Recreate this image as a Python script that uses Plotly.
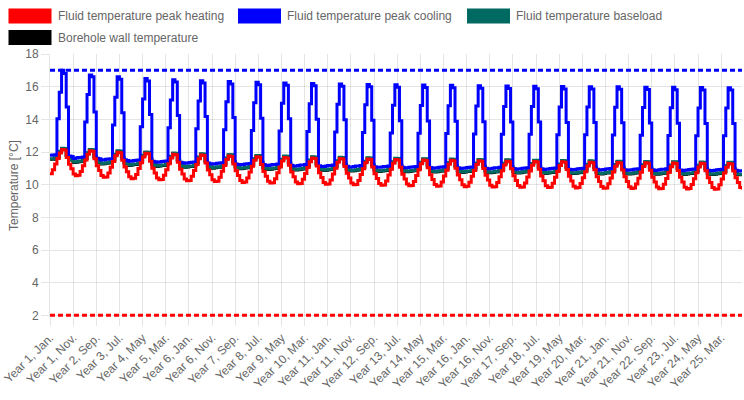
import plotly.graph_objects as go

month_names = ["Jan.", "Feb.", "Mar.", "Apr.", "May", "Jun.",
               "Jul.", "Aug.", "Sep.", "Oct.", "Nov.", "Dec."]
n_years = 25
month_labels = [f"Year {y}, {m}" for y in range(1, n_years + 1) for m in month_names]

series_names = ["Fluid temperature peak heating", "Fluid temperature peak cooling",
                "Fluid temperature baseload", "Borehole wall temperature"]

# one line per year, Jan. .. Dec.
peak_heating = [
    10.67, 10.92, 11.26, 11.6, 11.94, 12.15, 12.12, 11.67, 11.25, 10.97, 10.66, 10.55,
    10.57, 10.81, 11.16, 11.51, 11.86, 12.07, 12.04, 11.58, 11.16, 10.87, 10.56, 10.45,
    10.47, 10.71, 11.07, 11.42, 11.77, 11.99, 11.96, 11.5, 11.08, 10.79, 10.48, 10.37,
    10.39, 10.63, 10.99, 11.35, 11.7, 11.92, 11.89, 11.43, 11.01, 10.72, 10.41, 10.3,
    10.32, 10.57, 10.92, 11.28, 11.64, 11.86, 11.83, 11.37, 10.95, 10.66, 10.35, 10.24,
    10.26, 10.51, 10.87, 11.23, 11.59, 11.81, 11.78, 11.32, 10.9, 10.61, 10.3, 10.19,
    10.21, 10.46, 10.82, 11.18, 11.54, 11.76, 11.73, 11.27, 10.85, 10.56, 10.25, 10.14,
    10.16, 10.41, 10.77, 11.13, 11.49, 11.71, 11.68, 11.23, 10.81, 10.52, 10.21, 10.1,
    10.12, 10.37, 10.73, 11.09, 11.45, 11.67, 11.64, 11.19, 10.77, 10.48, 10.17, 10.06,
    10.08, 10.33, 10.69, 11.05, 11.41, 11.63, 11.6, 11.15, 10.73, 10.44, 10.13, 10.02,
    10.04, 10.29, 10.65, 11.01, 11.37, 11.6, 11.57, 11.12, 10.7, 10.41, 10.1, 9.99,
    10.01, 10.26, 10.62, 10.98, 11.34, 11.57, 11.54, 11.09, 10.67, 10.38, 10.07, 9.96,
    9.98, 10.23, 10.59, 10.95, 11.31, 11.54, 11.51, 11.06, 10.64, 10.35, 10.04, 9.93,
    9.95, 10.2, 10.56, 10.92, 11.28, 11.51, 11.48, 11.03, 10.61, 10.32, 10.01, 9.9,
    9.92, 10.17, 10.53, 10.89, 11.25, 11.49, 11.46, 11.01, 10.59, 10.3, 9.99, 9.88,
    9.9, 10.15, 10.51, 10.87, 11.23, 11.46, 11.43, 10.99, 10.57, 10.28, 9.97, 9.86,
    9.88, 10.13, 10.49, 10.85, 11.21, 11.44, 11.41, 10.97, 10.55, 10.26, 9.95, 9.84,
    9.86, 10.11, 10.47, 10.83, 11.19, 11.42, 11.39, 10.95, 10.53, 10.24, 9.93, 9.82,
    9.84, 10.09, 10.45, 10.81, 11.17, 11.4, 11.37, 10.93, 10.51, 10.22, 9.91, 9.8,
    9.82, 10.07, 10.43, 10.79, 11.15, 11.38, 11.35, 10.91, 10.49, 10.2, 9.89, 9.78,
    9.8, 10.05, 10.41, 10.77, 11.13, 11.36, 11.33, 10.9, 10.48, 10.19, 9.88, 9.77,
    9.79, 10.04, 10.4, 10.76, 11.12, 11.34, 11.31, 10.88, 10.46, 10.17, 9.86, 9.75,
    9.77, 10.02, 10.38, 10.74, 11.1, 11.33, 11.3, 10.87, 10.45, 10.16, 9.85, 9.74,
    9.76, 10.01, 10.37, 10.73, 11.09, 11.31, 11.28, 10.85, 10.43, 10.14, 9.83, 9.72,
    9.74, 9.99, 10.35, 10.71, 11.07, 11.3, 11.27, 10.84, 10.42, 10.13, 9.82, 9.71,
]

peak_cooling = [
    11.8, 11.81, 11.83, 14.04, 15.66, 17.0, 16.8, 14.75, 11.76, 11.72, 11.61, 11.63,
    11.66, 11.67, 11.69, 13.83, 15.52, 16.72, 16.6, 14.45, 11.62, 11.58, 11.51, 11.53,
    11.56, 11.57, 11.59, 13.65, 15.35, 16.6, 16.45, 14.4, 11.52, 11.48, 11.43, 11.45,
    11.48, 11.49, 11.51, 13.55, 15.25, 16.5, 16.35, 14.3, 11.44, 11.4, 11.37, 11.39,
    11.42, 11.43, 11.45, 13.48, 15.18, 16.43, 16.28, 14.23, 11.38, 11.34, 11.31, 11.33,
    11.36, 11.37, 11.39, 13.42, 15.12, 16.37, 16.22, 14.17, 11.32, 11.28, 11.26, 11.28,
    11.31, 11.32, 11.34, 13.37, 15.07, 16.32, 16.17, 14.12, 11.27, 11.23, 11.22, 11.24,
    11.27, 11.28, 11.3, 13.32, 15.02, 16.27, 16.12, 14.07, 11.23, 11.19, 11.18, 11.2,
    11.23, 11.24, 11.26, 13.28, 14.98, 16.23, 16.08, 14.03, 11.19, 11.15, 11.15, 11.17,
    11.2, 11.21, 11.23, 13.25, 14.95, 16.2, 16.05, 14.0, 11.16, 11.12, 11.12, 11.14,
    11.17, 11.18, 11.2, 13.22, 14.92, 16.17, 16.02, 13.97, 11.13, 11.09, 11.09, 11.11,
    11.14, 11.15, 11.17, 13.19, 14.89, 16.14, 15.99, 13.94, 11.1, 11.06, 11.06, 11.08,
    11.11, 11.12, 11.14, 13.17, 14.87, 16.12, 15.97, 13.92, 11.07, 11.03, 11.04, 11.06,
    11.09, 11.1, 11.12, 13.15, 14.85, 16.1, 15.95, 13.9, 11.05, 11.01, 11.02, 11.04,
    11.07, 11.08, 11.1, 13.13, 14.83, 16.08, 15.93, 13.88, 11.03, 10.99, 11.0, 11.02,
    11.05, 11.06, 11.08, 13.11, 14.81, 16.06, 15.91, 13.86, 11.01, 10.97, 10.98, 11.0,
    11.03, 11.04, 11.06, 13.09, 14.79, 16.04, 15.89, 13.84, 10.99, 10.95, 10.96, 10.98,
    11.01, 11.02, 11.04, 13.08, 14.78, 16.03, 15.88, 13.83, 10.97, 10.93, 10.94, 10.96,
    10.99, 11.0, 11.02, 13.06, 14.76, 16.01, 15.86, 13.81, 10.95, 10.91, 10.93, 10.95,
    10.98, 10.99, 11.01, 13.05, 14.75, 16.0, 15.85, 13.8, 10.94, 10.9, 10.91, 10.93,
    10.96, 10.97, 10.99, 13.04, 14.74, 15.99, 15.84, 13.79, 10.92, 10.88, 10.9, 10.92,
    10.95, 10.96, 10.98, 13.02, 14.72, 15.97, 15.82, 13.77, 10.91, 10.87, 10.89, 10.91,
    10.94, 10.95, 10.97, 13.01, 14.71, 15.96, 15.81, 13.76, 10.9, 10.86, 10.88, 10.9,
    10.93, 10.94, 10.96, 13.0, 14.7, 15.95, 15.8, 13.75, 10.89, 10.85, 10.87, 10.89,
    10.92, 10.93, 10.95, 12.99, 14.69, 15.94, 15.79, 13.74, 10.88, 10.84, 10.86, 10.88,
]

baseload = [
    11.58, 11.59, 11.65, 11.72, 12.04, 12.23, 12.22, 11.82, 11.6, 11.54, 11.39, 11.41,
    11.44, 11.45, 11.51, 11.63, 11.96, 12.15, 12.14, 11.73, 11.46, 11.4, 11.29, 11.31,
    11.34, 11.35, 11.41, 11.54, 11.87, 12.07, 12.06, 11.65, 11.36, 11.3, 11.21, 11.23,
    11.26, 11.27, 11.33, 11.47, 11.8, 12.0, 11.99, 11.58, 11.28, 11.22, 11.15, 11.17,
    11.2, 11.21, 11.27, 11.4, 11.74, 11.94, 11.93, 11.52, 11.22, 11.16, 11.09, 11.11,
    11.14, 11.15, 11.21, 11.35, 11.69, 11.89, 11.88, 11.47, 11.16, 11.1, 11.04, 11.06,
    11.09, 11.1, 11.16, 11.3, 11.64, 11.84, 11.83, 11.42, 11.11, 11.05, 11.0, 11.02,
    11.05, 11.06, 11.12, 11.25, 11.59, 11.79, 11.78, 11.38, 11.07, 11.01, 10.96, 10.98,
    11.01, 11.02, 11.08, 11.21, 11.55, 11.75, 11.74, 11.34, 11.03, 10.97, 10.93, 10.95,
    10.98, 10.99, 11.05, 11.17, 11.51, 11.71, 11.7, 11.3, 11.0, 10.94, 10.9, 10.92,
    10.95, 10.96, 11.02, 11.13, 11.47, 11.68, 11.67, 11.27, 10.97, 10.91, 10.87, 10.89,
    10.92, 10.93, 10.99, 11.1, 11.44, 11.65, 11.64, 11.24, 10.94, 10.88, 10.84, 10.86,
    10.89, 10.9, 10.96, 11.07, 11.41, 11.62, 11.61, 11.21, 10.91, 10.85, 10.82, 10.84,
    10.87, 10.88, 10.94, 11.04, 11.38, 11.59, 11.58, 11.18, 10.89, 10.83, 10.8, 10.82,
    10.85, 10.86, 10.92, 11.01, 11.35, 11.57, 11.56, 11.16, 10.87, 10.81, 10.78, 10.8,
    10.83, 10.84, 10.9, 10.99, 11.33, 11.54, 11.53, 11.14, 10.85, 10.79, 10.76, 10.78,
    10.81, 10.82, 10.88, 10.97, 11.31, 11.52, 11.51, 11.12, 10.83, 10.77, 10.74, 10.76,
    10.79, 10.8, 10.86, 10.95, 11.29, 11.5, 11.49, 11.1, 10.81, 10.75, 10.72, 10.74,
    10.77, 10.78, 10.84, 10.93, 11.27, 11.48, 11.47, 11.08, 10.79, 10.73, 10.71, 10.73,
    10.76, 10.77, 10.83, 10.91, 11.25, 11.46, 11.45, 11.06, 10.78, 10.72, 10.69, 10.71,
    10.74, 10.75, 10.81, 10.89, 11.23, 11.44, 11.43, 11.05, 10.76, 10.7, 10.68, 10.7,
    10.73, 10.74, 10.8, 10.88, 11.22, 11.42, 11.41, 11.03, 10.75, 10.69, 10.67, 10.69,
    10.72, 10.73, 10.79, 10.86, 11.2, 11.41, 11.4, 11.02, 10.74, 10.68, 10.66, 10.68,
    10.71, 10.72, 10.78, 10.85, 11.19, 11.39, 11.38, 11.0, 10.73, 10.67, 10.65, 10.67,
    10.7, 10.71, 10.77, 10.83, 11.17, 11.38, 11.37, 10.99, 10.72, 10.66, 10.64, 10.66,
]

wall_temp = [
    11.55, 11.56, 11.62, 11.69, 12.01, 12.2, 12.19, 11.79, 11.57, 11.51, 11.36, 11.38,
    11.41, 11.42, 11.48, 11.6, 11.93, 12.12, 12.11, 11.7, 11.43, 11.37, 11.26, 11.28,
    11.31, 11.32, 11.38, 11.51, 11.84, 12.04, 12.03, 11.62, 11.33, 11.27, 11.18, 11.2,
    11.23, 11.24, 11.3, 11.44, 11.77, 11.97, 11.96, 11.55, 11.25, 11.19, 11.12, 11.14,
    11.17, 11.18, 11.24, 11.37, 11.71, 11.91, 11.9, 11.49, 11.19, 11.13, 11.06, 11.08,
    11.11, 11.12, 11.18, 11.32, 11.66, 11.86, 11.85, 11.44, 11.13, 11.07, 11.01, 11.03,
    11.06, 11.07, 11.13, 11.27, 11.61, 11.81, 11.8, 11.39, 11.08, 11.02, 10.97, 10.99,
    11.02, 11.03, 11.09, 11.22, 11.56, 11.76, 11.75, 11.35, 11.04, 10.98, 10.93, 10.95,
    10.98, 10.99, 11.05, 11.18, 11.52, 11.72, 11.71, 11.31, 11.0, 10.94, 10.9, 10.92,
    10.95, 10.96, 11.02, 11.14, 11.48, 11.68, 11.67, 11.27, 10.97, 10.91, 10.87, 10.89,
    10.92, 10.93, 10.99, 11.1, 11.44, 11.65, 11.64, 11.24, 10.94, 10.88, 10.84, 10.86,
    10.89, 10.9, 10.96, 11.07, 11.41, 11.62, 11.61, 11.21, 10.91, 10.85, 10.81, 10.83,
    10.86, 10.87, 10.93, 11.04, 11.38, 11.59, 11.58, 11.18, 10.88, 10.82, 10.79, 10.81,
    10.84, 10.85, 10.91, 11.01, 11.35, 11.56, 11.55, 11.15, 10.86, 10.8, 10.77, 10.79,
    10.82, 10.83, 10.89, 10.98, 11.32, 11.54, 11.53, 11.13, 10.84, 10.78, 10.75, 10.77,
    10.8, 10.81, 10.87, 10.96, 11.3, 11.51, 11.5, 11.11, 10.82, 10.76, 10.73, 10.75,
    10.78, 10.79, 10.85, 10.94, 11.28, 11.49, 11.48, 11.09, 10.8, 10.74, 10.71, 10.73,
    10.76, 10.77, 10.83, 10.92, 11.26, 11.47, 11.46, 11.07, 10.78, 10.72, 10.69, 10.71,
    10.74, 10.75, 10.81, 10.9, 11.24, 11.45, 11.44, 11.05, 10.76, 10.7, 10.68, 10.7,
    10.73, 10.74, 10.8, 10.88, 11.22, 11.43, 11.42, 11.03, 10.75, 10.69, 10.66, 10.68,
    10.71, 10.72, 10.78, 10.86, 11.2, 11.41, 11.4, 11.02, 10.73, 10.67, 10.65, 10.67,
    10.7, 10.71, 10.77, 10.85, 11.19, 11.39, 11.38, 11.0, 10.72, 10.66, 10.64, 10.66,
    10.69, 10.7, 10.76, 10.83, 11.17, 11.38, 11.37, 10.99, 10.71, 10.65, 10.63, 10.65,
    10.68, 10.69, 10.75, 10.82, 11.16, 11.36, 11.35, 10.97, 10.7, 10.64, 10.62, 10.64,
    10.67, 10.68, 10.74, 10.8, 11.14, 11.35, 11.34, 10.96, 10.69, 10.63, 10.61, 10.63,
]

max_fluid_temp = 17
min_fluid_temp = 2

colors = ["rgb(255,0,0)", "rgb(0,0,255)", "rgb(0,106,98)", "rgb(0,0,0)"]
grey_text = "#666666"
grid = "rgba(0,0,0,0.1)"
font_family = "Liberation Sans, Arial, sans-serif"

fig = go.Figure()

# limit lines first so they sit underneath
for lim, col in [(max_fluid_temp, colors[1]), (min_fluid_temp, colors[0])]:
    fig.add_trace(go.Scatter(
        x=[month_labels[0], month_labels[-1]], y=[lim, lim], mode="lines",
        line=dict(color=col, width=3, dash="5px,3px"), showlegend=False, hoverinfo="skip"))

# drawn bottom-up: wall, baseload, peak cooling, peak heating
for vals, i in [(wall_temp, 3), (baseload, 2), (peak_cooling, 1), (peak_heating, 0)]:
    fig.add_trace(go.Scatter(
        x=month_labels, y=vals, mode="lines", name=series_names[i],
        line=dict(color=colors[i], width=3, shape="hv"), showlegend=False))

# y range goes a touch below 2 so the dashed 2 °C line is not cut in half
L, R, T, B = 50, 2, 54, 83
W, H = 744, 400
y_lo, y_hi = 1.9, 18
pw, ph = W - L - R, H - T - B


def px_x(px):
    return (px - L) / pw


def px_y(py):
    return (H - B - py) / ph


# chart.js style legend: coloured box + grey label
legend_pos = [(8.5, 8.5), (238, 8.5), (467, 8.5), (8.5, 30)]
for i, (bx, by) in enumerate(legend_pos):
    fig.add_shape(type="rect", xref="paper", yref="paper",
                  x0=px_x(bx), x1=px_x(bx + 43), y0=px_y(by), y1=px_y(by + 15),
                  fillcolor=colors[i], line=dict(width=0))
    fig.add_annotation(xref="paper", yref="paper", x=px_x(bx + 47), y=px_y(by + 7.5),
                       text=series_names[i], showarrow=False, xanchor="left", yanchor="middle",
                       font=dict(size=12, color=grey_text, family=font_family))

fig.update_layout(
    width=W, height=H,
    margin=dict(l=L, r=R, t=T, b=B),
    paper_bgcolor="white", plot_bgcolor="white",
    font=dict(family=font_family, size=12, color=grey_text),
    showlegend=False,
)
fig.update_xaxes(
    type="category", categoryorder="array", categoryarray=month_labels,
    range=[0, len(month_labels) - 1],
    tickmode="array", tickvals=month_labels[::10], ticktext=month_labels[::10],
    tickangle=-45, ticks="outside", ticklen=8, tickcolor=grid,
    showgrid=True, gridcolor=grid, gridwidth=1, zeroline=False,
    showline=False,
    tickfont=dict(size=12, color=grey_text),
)
fig.update_yaxes(
    range=[y_lo, y_hi], tickmode="array", tickvals=list(range(2, 19, 2)),
    ticks="outside", ticklen=8, tickcolor=grid,
    showgrid=True, gridcolor=grid, gridwidth=1, zeroline=False,
    showline=True, linecolor=grid, linewidth=1,
    tickfont=dict(size=12, color=grey_text),
    title=dict(text="Temperature [°C]", font=dict(size=12, color=grey_text), standoff=4),
)

fig.write_html("out.html", config={"displayModeBar": False},
               post_script="document.body.style.margin='0';")
